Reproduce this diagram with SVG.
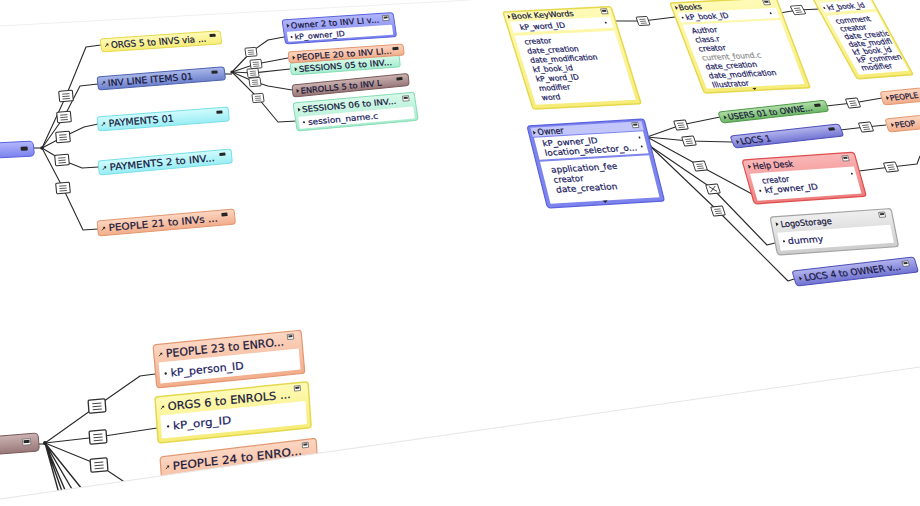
<svg xmlns="http://www.w3.org/2000/svg" xmlns:xlink="http://www.w3.org/1999/xlink" width="920" height="506" viewBox="0 0 920 506">
<defs>
<style>
.ln{fill:none;stroke:#2a2a2a;stroke-width:1.1;stroke-linejoin:round}
.t{font-family:"DejaVu Sans","Liberation Sans",sans-serif;fill:#16163a;stroke:#16163a;stroke-width:0.2}
.f{fill:#1a2060;stroke:#1a2060}
.gr{fill:#8f8f8f;stroke:#8f8f8f}
.min{fill:#262626}
.pn{fill:#fff}
.yel{fill:url(#gY);stroke:#e6d84e}
.blu{fill:url(#gB);stroke:#5a62de}
.stl{fill:url(#gS);stroke:#4f64b0}
.cyn{fill:url(#gC);stroke:#79dfe9}
.sal{fill:url(#gP);stroke:#e39770}
.mnt{fill:url(#gM);stroke:#86dcb5}
.mau{fill:url(#gMa);stroke:#7a5b5b}
.grn{fill:url(#gG);stroke:#519a4a}
.pur{fill:url(#gU);stroke:#4e50b8}
.red{fill:url(#gR);stroke:#de4e4e}
.gry{fill:url(#gGr);stroke:#a3a3a3}
</style>
<linearGradient id="gY" x1="0" y1="0" x2="0" y2="1"><stop offset="0" stop-color="#fffbb8"/><stop offset="1" stop-color="#f6ec78"/></linearGradient>
<linearGradient id="gB" x1="0" y1="0" x2="0" y2="1"><stop offset="0" stop-color="#b3b7fb"/><stop offset="1" stop-color="#7b82ee"/></linearGradient>
<linearGradient id="gS" x1="0" y1="0" x2="0" y2="1"><stop offset="0" stop-color="#aab8ea"/><stop offset="1" stop-color="#6c80cb"/></linearGradient>
<linearGradient id="gC" x1="0" y1="0" x2="0" y2="1"><stop offset="0" stop-color="#d2fcfe"/><stop offset="1" stop-color="#99edf4"/></linearGradient>
<linearGradient id="gP" x1="0" y1="0" x2="0" y2="1"><stop offset="0" stop-color="#fcd7c3"/><stop offset="1" stop-color="#f2ad8b"/></linearGradient>
<linearGradient id="gM" x1="0" y1="0" x2="0" y2="1"><stop offset="0" stop-color="#d9f9eb"/><stop offset="1" stop-color="#a7eccf"/></linearGradient>
<linearGradient id="gMa" x1="0" y1="0" x2="0" y2="1"><stop offset="0" stop-color="#ccb3b3"/><stop offset="1" stop-color="#987777"/></linearGradient>
<linearGradient id="gG" x1="0" y1="0" x2="0" y2="1"><stop offset="0" stop-color="#b1dfaa"/><stop offset="1" stop-color="#6cb564"/></linearGradient>
<linearGradient id="gU" x1="0" y1="0" x2="0" y2="1"><stop offset="0" stop-color="#b3b5ee"/><stop offset="1" stop-color="#7173d2"/></linearGradient>
<linearGradient id="gR" x1="0" y1="0" x2="0" y2="1"><stop offset="0" stop-color="#fab8b8"/><stop offset="1" stop-color="#ee7c7c"/></linearGradient>
<linearGradient id="gGr" x1="0" y1="0" x2="0" y2="1"><stop offset="0" stop-color="#efefef"/><stop offset="1" stop-color="#cdcdcd"/></linearGradient>
<g id="rel"><rect x="-6.5" y="-5" width="13" height="10" rx="1" fill="#fff" stroke="#2d2d2d" stroke-width="1"/><path d="M-3.5 -2H3.5M-3.5 0.3H3.5M-3.5 2.6H3.5" stroke="#444" stroke-width="0.8"/></g>
<g id="relx"><rect x="-6.5" y="-5" width="13" height="10" rx="1" fill="#fff" stroke="#2d2d2d" stroke-width="1"/><path d="M-3.5 -3L3.5 3M3.5 -3L-3.5 3" stroke="#333" stroke-width="0.9"/></g>
<g id="ar"><path d="M0 3.2L3 0.2" stroke="#222" stroke-width="0.8"/><path d="M1 0H3.4V2.4Z" fill="#222"/></g>
<path id="tri" d="M0 -2L2.6 0L0 2Z" fill="#222"/>
<g id="ti"><rect width="6" height="5" fill="#fff" stroke="#444" stroke-width="0.6"/><rect x="1" y="1" width="4" height="2" fill="#333"/></g>
<clipPath id="ckf"><rect x="0" y="0" width="54" height="82"/></clipPath>
</defs>
<rect width="920" height="506" fill="#fff"/>
<path d="M0 26L470 0" stroke="#f0f0f0" stroke-width="1" fill="none"/>

<g id="connectors">
<g class="ln">
<path d="M33 148H42"/>
<path d="M42 148L66 96L86 47L101 45"/>
<path d="M42 148L64 117L80 86L98 84"/>
<path d="M42 148L63 137L84 127L98 124"/>
<path d="M42 148L62 160L82 168L99 167"/>
<path d="M42 148L63 188L83 230L98 229"/>
<path d="M224 74H232"/>
<path d="M232 72L251 52L268 40L284 37"/>
<path d="M232 72L256 64L288 58"/>
<path d="M232 72L253 73L290 69"/>
<path d="M232 72L255 82L268 86L292 90"/>
<path d="M232 72L258 98L278 122L297 121"/>
<path d="M614 21L643 21L675 17"/>
<path d="M780 13L798 10L820 9"/>
<path d="M647 137L681 125L720 117"/>
<path d="M647 137L689 141L732 142"/>
<path d="M647 137L700 166L752 194"/>
<path d="M650 146L713 189L767 245L775 243"/>
<path d="M650 146L718 211L788 281L794 279"/>
<path d="M826 106L853 103L882 98"/>
<path d="M840 130L866 127L886 125"/>
<path d="M859 171L891 167L917 164L920 156"/>
<path d="M38 444H45"/>
<path d="M45 443L97 406L140 376L155 374"/>
<path d="M45 443L98 437L157 428"/>
<path d="M45 443L99 465L126 483L160 482"/>
<path d="M45 443L60 497M45 443L64 497M45 443L68 497M45 443L76 496M45 443L86 494" stroke-width="1.4"/>
</g>
<g fill="#222"><circle cx="42" cy="148" r="1.8"/><circle cx="232" cy="72" r="1.6"/><circle cx="45" cy="443" r="2"/><circle cx="647" cy="137" r="1.5"/><circle cx="650" cy="146" r="1.5"/></g>
<use href="#rel" transform="matrix(1.05,-0.08,0.1,1.05,66,96)"/>
<use href="#rel" transform="matrix(1.05,-0.08,0.1,1.05,64,117)"/>
<use href="#rel" transform="matrix(1.05,-0.08,0.1,1.05,63,137)"/>
<use href="#rel" transform="matrix(1.05,-0.08,0.1,1.05,62,160)"/>
<use href="#rel" transform="matrix(1.05,-0.08,0.1,1.05,63,188)"/>
<use href="#rel" transform="matrix(0.85,-0.07,0.12,0.85,251,52)"/>
<use href="#rel" transform="matrix(0.85,-0.07,0.12,0.85,256,64)"/>
<use href="#rel" transform="matrix(0.85,-0.07,0.12,0.85,253,73)"/>
<use href="#rel" transform="matrix(0.85,-0.07,0.12,0.85,255,82)"/>
<use href="#rel" transform="matrix(0.85,-0.07,0.12,0.85,258,98)"/>
<use href="#rel" transform="matrix(0.85,-0.05,0.3,0.85,643,21)"/>
<use href="#rel" transform="matrix(0.85,-0.08,0.45,0.85,798,10)"/>
<use href="#rel" transform="matrix(0.9,-0.08,0.3,0.9,681,125)"/>
<use href="#rel" transform="matrix(0.9,-0.08,0.3,0.9,689,141)"/>
<use href="#rel" transform="matrix(0.9,-0.08,0.3,0.9,700,166)"/>
<use href="#relx" transform="matrix(0.9,-0.08,0.3,0.9,713,189)"/>
<use href="#rel" transform="matrix(0.9,-0.08,0.3,0.9,718,211)"/>
<use href="#rel" transform="matrix(0.9,-0.1,0.35,0.9,853,103)"/>
<use href="#rel" transform="matrix(0.9,-0.1,0.35,0.9,866,127)"/>
<use href="#rel" transform="matrix(0.9,-0.1,0.35,0.9,891,167)"/>
<use href="#rel" transform="matrix(1.3,-0.12,0.1,1.3,97,406)"/>
<use href="#rel" transform="matrix(1.3,-0.12,0.1,1.3,98,437)"/>
<use href="#rel" transform="matrix(1.3,-0.12,0.1,1.3,99,465)"/>
</g>

<g id="n-invoices" transform="matrix(1,-0.05,0.1,1,-25,144)">
<rect class="blu" width="58" height="15" rx="4"/><rect class="min" x="45" y="5" width="7" height="4" rx="0.8"/>
</g>
<g id="n-orgs5" transform="matrix(1,-0.068,0.15,1,100,39)">
<rect class="yel" width="120" height="13" rx="3"/><use href="#ar" x="4" y="5"/>
<text class="t" x="10" y="9.8" font-size="9" textLength="95" lengthAdjust="spacingAndGlyphs">ORGS 5 to INVS via ...</text>
<rect class="min" x="109" y="2.5" width="6" height="3" rx="0.6"/>
</g>
<g id="n-invline" transform="matrix(1,-0.08,0.12,1,97,77)">
<rect class="stl" width="127" height="13" rx="3"/><use href="#ar" x="4" y="5"/>
<text class="t" x="10" y="10" font-size="9" textLength="85" lengthAdjust="spacingAndGlyphs">INV LINE ITEMS 01</text>
<rect class="min" x="114" y="3" width="6" height="3" rx="0.6"/>
</g>
<g id="n-pay01" transform="matrix(1,-0.077,0.1,1,97,117)">
<rect class="cyn" width="131" height="14" rx="3"/><use href="#ar" x="4" y="6"/>
<text class="t" x="11" y="10.5" font-size="9.5" textLength="65" lengthAdjust="spacingAndGlyphs">PAYMENTS 01</text>
<rect class="min" x="119" y="3" width="6" height="3" rx="0.6"/>
</g>
<g id="n-pay2" transform="matrix(1,-0.09,0.1,1,98,161)">
<rect class="cyn" width="133" height="14" rx="3"/><use href="#ar" x="4" y="6"/>
<text class="t" x="11" y="10.5" font-size="9.5" textLength="105" lengthAdjust="spacingAndGlyphs">PAYMENTS 2 to INV...</text>
<rect class="min" x="121" y="3" width="6" height="3" rx="0.6"/>
</g>
<g id="n-people21" transform="matrix(1,-0.088,0.1,1,97,221)">
<rect class="sal" width="137" height="15" rx="3"/><use href="#ar" x="4" y="6.5"/>
<text class="t" x="11" y="11" font-size="9.5" textLength="109" lengthAdjust="spacingAndGlyphs">PEOPLE 21 to INVs ...</text>
<rect class="min" x="124" y="3" width="6" height="3.5" rx="0.6"/>
</g>

<g id="n-owner2" transform="matrix(1,-0.068,0.15,1,282,20)">
<rect class="blu" width="111" height="24" rx="3"/><use href="#tri" x="4" y="6"/>
<text class="t" x="8" y="9" font-size="8" textLength="88" lengthAdjust="spacingAndGlyphs">Owner 2 to INV LI v...</text>
<use href="#ti" x="100" y="2.5"/>
<rect class="pn" x="3" y="12" width="105" height="10" rx="1"/><circle cx="7" cy="17.5" r="1" fill="#222"/>
<text class="t f" x="10" y="20.3" font-size="7.5" textLength="50" lengthAdjust="spacingAndGlyphs">kP_owner_ID</text>
</g>
<g id="n-sessions05" transform="matrix(1,-0.075,0.12,1,290,63)">
<rect class="mnt" width="109" height="12" rx="3"/><use href="#tri" x="4" y="6.5"/>
<text class="t" x="8" y="9.5" font-size="8" textLength="93" lengthAdjust="spacingAndGlyphs">SESSIONS 05 to INV...</text>
</g>
<g id="n-people20" transform="matrix(1,-0.07,0.12,1,288,52)">
<rect class="sal" width="115" height="11" rx="3"/><use href="#tri" x="4" y="6"/>
<text class="t" x="8" y="8.8" font-size="8" textLength="95" lengthAdjust="spacingAndGlyphs">PEOPLE 20 to INV LI...</text>
<rect class="min" x="104" y="2.5" width="6" height="3" rx="0.6"/>
</g>
<g id="n-enrolls5" transform="matrix(1,-0.1,0.1,1,292,85)">
<rect class="mau" width="116" height="12" rx="3"/><use href="#tri" x="4" y="6.5"/>
<text class="t" x="8" y="9.5" font-size="8" textLength="81" lengthAdjust="spacingAndGlyphs">ENROLLS 5 to INV L</text>
<rect class="min" x="104" y="3" width="6" height="3" rx="0.6"/>
</g>
<g id="n-sessions06" transform="matrix(1,-0.09,0.15,1,293,103)">
<rect class="mnt" width="121" height="28" rx="3"/><use href="#tri" x="4" y="7"/>
<text class="t" x="8" y="10" font-size="8" textLength="94" lengthAdjust="spacingAndGlyphs">SESSIONS 06 to INV...</text>
<use href="#ti" x="109" y="3"/>
<rect class="pn" x="3" y="14" width="115" height="12" rx="1"/><circle cx="8" cy="20" r="1" fill="#222"/>
<text class="t f" x="12" y="23" font-size="8" textLength="70" lengthAdjust="spacingAndGlyphs">session_name.c</text>
</g>

<g id="n-bookkw" transform="matrix(1,-0.05,0.31,1,503,12)">
<rect class="yel" width="108" height="97" rx="2" stroke-width="1.5"/><use href="#tri" x="3.5" y="5"/>
<text class="t" x="7" y="7.5" font-size="7.5" textLength="62" lengthAdjust="spacingAndGlyphs">Book KeyWords</text>
<use href="#ti" x="97" y="1.8"/>
<rect class="pn" x="4" y="10" width="100" height="11"/><circle cx="98" cy="15.5" r="0.9" fill="#222"/>
<text class="t f" x="12" y="18.5" font-size="7.5" textLength="45" lengthAdjust="spacingAndGlyphs">kP_word_ID</text>
<rect class="pn" x="4" y="24" width="100" height="69"/>
<g class="t f" font-size="7.5">
<text x="12" y="33">creator</text><text x="12" y="42.3">date_creation</text><text x="12" y="51.6">date_modification</text><text x="12" y="60.9">kf_book_id</text><text x="12" y="70.2">kP_word_ID</text><text x="12" y="79.5">modifier</text><text x="12" y="88.8">word</text>
</g>
</g>
<g id="n-books" transform="matrix(1,-0.05,0.38,1,670,3)">
<rect class="yel" width="106" height="90" rx="2" stroke-width="1.5"/><use href="#tri" x="3.5" y="5"/>
<text class="t" x="7" y="7.5" font-size="7.5">Books</text>
<use href="#ti" x="92" y="1.5"/>
<rect class="pn" x="4" y="10" width="98" height="10"/><circle cx="7" cy="15" r="0.9" fill="#222"/><circle cx="95" cy="15" r="0.9" fill="#222"/>
<text class="t f" x="10" y="17.5" font-size="7.5">kP_book_ID</text>
<rect class="pn" x="4" y="22" width="98" height="64"/>
<g class="t f" font-size="7.5">
<text x="11" y="31">Author</text><text x="11" y="40">class.r</text><text x="11" y="49">creator</text><text class="gr" x="11" y="58">current_found.c</text><text x="11" y="67">date_creation</text><text x="11" y="76">date_modification</text><text x="11" y="85">Illustrator</text>
</g>
<path d="M49 87.5L53 87.5L51 89.5Z" fill="#222"/>
</g>
<g id="n-kf" transform="matrix(1,-0.08,0.55,1,812,-3)">
<rect class="yel" width="56" height="82" rx="2" stroke-width="1.5"/>
<g clip-path="url(#ckf)">
<rect class="pn" x="4" y="6" width="60" height="10"/><circle cx="6" cy="11.5" r="0.9" fill="#222"/>
<text class="t f" x="9" y="14" font-size="7">kf_book_id</text>
<rect class="pn" x="4" y="19" width="60" height="59"/>
<g class="t f" font-size="7.3">
<text x="10" y="27.5">comment</text><text x="10" y="35.3">creator</text><text x="10" y="43.1">date_creatio</text><text x="10" y="50.9">date_modifi</text><text x="10" y="58.7">kf_book_id</text><text x="10" y="66.5">kP_commen</text><text x="10" y="74.3">modifier</text>
</g>
</g>
</g>

<g id="n-owner" transform="matrix(1,-0.06,0.25,1,527,126)">
<rect width="117" height="82" rx="3" fill="#7d84ee" stroke="#5a62de" stroke-width="1.2"/>
<rect x="3" y="2" width="111" height="9" fill="#c3c6fb"/><use href="#tri" x="4.5" y="7"/>
<text class="t" x="9" y="9.5" font-size="8.5" textLength="26" lengthAdjust="spacingAndGlyphs">Owner</text>
<use href="#ti" x="104" y="3"/>
<rect class="pn" x="4" y="12" width="109" height="22"/>
<text class="t f" x="11" y="21" font-size="8" textLength="55" lengthAdjust="spacingAndGlyphs">kP_owner_ID</text>
<text class="t f" x="11" y="30.5" font-size="8" textLength="92" lengthAdjust="spacingAndGlyphs">location_selector_o...</text>
<circle cx="108" cy="18" r="0.9" fill="#222"/><circle cx="108" cy="27" r="0.9" fill="#222"/>
<rect class="pn" x="4" y="36" width="109" height="42"/>
<g class="t f" font-size="8.3">
<text x="13" y="47.5" textLength="66" lengthAdjust="spacingAndGlyphs">application_fee</text><text x="13" y="57.5">creator</text><text x="13" y="67.5" textLength="61" lengthAdjust="spacingAndGlyphs">date_creation</text>
</g>
<path d="M56 78L61 78L58.5 80.5Z" fill="#222"/>
</g>
<g id="n-users01" transform="matrix(1,-0.11,0.35,1,718,112)">
<rect class="grn" width="107" height="11" rx="3"/><use href="#tri" x="4" y="6"/>
<text class="t" x="8" y="8.7" font-size="8" textLength="84" lengthAdjust="spacingAndGlyphs">USERS 01 to OWNE...</text>
<rect class="min" x="95" y="2.5" width="6" height="3" rx="0.6"/>
</g>
<g id="n-locs1" transform="matrix(1,-0.11,0.4,1,730,136)">
<rect class="pur" width="109" height="12" rx="3"/><use href="#tri" x="4" y="6.5"/>
<text class="t" x="8" y="9.3" font-size="8.5" textLength="30" lengthAdjust="spacingAndGlyphs">LOCS 1</text>
<rect class="min" x="97" y="2.5" width="6" height="3" rx="0.6"/>
</g>
<g id="n-helpdesk" transform="matrix(1,-0.07,0.28,1,742,160)">
<rect class="red" width="112" height="44" rx="3" stroke-width="1.2"/><use href="#tri" x="4.5" y="7"/>
<text class="t" x="9" y="10" font-size="8.5" textLength="40" lengthAdjust="spacingAndGlyphs">Help Desk</text>
<use href="#ti" x="99" y="3"/>
<rect class="pn" x="4" y="14" width="104" height="27"/>
<text class="t f" x="14" y="24.5" font-size="8" textLength="27" lengthAdjust="spacingAndGlyphs">creator</text>
<circle cx="9.5" cy="31.5" r="1" fill="#222"/>
<text class="t f" x="14" y="34" font-size="8" textLength="53" lengthAdjust="spacingAndGlyphs">kf_owner_ID</text>
<circle cx="104" cy="21" r="0.9" fill="#222"/>
</g>
<g id="n-logo" transform="matrix(1,-0.07,0.2,1,770,217)">
<rect class="gry" width="121" height="38" rx="3" stroke-width="1.2"/><use href="#tri" x="4.5" y="7.5"/>
<text class="t" x="9" y="11" font-size="8.5" textLength="51" lengthAdjust="spacingAndGlyphs">LogoStorage</text>
<use href="#ti" x="108" y="3"/>
<rect class="pn" x="4" y="16" width="113" height="18"/><circle cx="9" cy="25" r="1" fill="#222"/>
<text class="t f" x="13" y="28" font-size="8.5" textLength="35" lengthAdjust="spacingAndGlyphs">dummy</text>
</g>
<g id="n-locs4" transform="matrix(1,-0.115,0.3,1,792,271)">
<rect class="pur" width="122" height="15" rx="3"/><use href="#tri" x="5" y="8"/>
<text class="t" x="10" y="11" font-size="9" textLength="96" lengthAdjust="spacingAndGlyphs">LOCS 4 to OWNER v...</text>
<use href="#ti" x="109" y="3"/>
</g>
<g id="n-people-r1" transform="matrix(1,-0.1,0.3,1,880,92)">
<rect class="sal" width="60" height="13" rx="3"/><use href="#tri" x="4.5" y="6.5"/>
<text class="t" x="8" y="9.5" font-size="7.5" textLength="28" lengthAdjust="spacingAndGlyphs">PEOPLE</text>
</g>
<g id="n-people-r2" transform="matrix(1,-0.1,0.3,1,885,119)">
<rect class="sal" width="60" height="13" rx="3"/><use href="#tri" x="4.5" y="6.5"/>
<text class="t" x="8" y="9.5" font-size="7.5" textLength="20" lengthAdjust="spacingAndGlyphs">PEOP</text>
</g>

<g id="n-enrolls-bl" transform="matrix(1,-0.08,0.08,1,-25,438)">
<rect class="mau" width="63" height="18" rx="4"/><rect x="47" y="5" width="8" height="6" fill="#fff" stroke="#555" stroke-width="0.6"/><rect class="min" x="48" y="6" width="6" height="3"/>
</g>
<g id="n-people23" transform="matrix(1,-0.1,0.09,1,153,345)">
<rect class="sal" width="148" height="43" rx="3" stroke-width="1.2"/><use href="#ar" x="5" y="8.5"/>
<text class="t" x="12" y="13.5" font-size="11" textLength="118" lengthAdjust="spacingAndGlyphs">PEOPLE 23 to ENRO...</text>
<use href="#ti" x="134" y="3"/>
<rect class="pn" x="4" y="18" width="140" height="21"/><circle cx="10" cy="29.5" r="1.2" fill="#222"/>
<text class="t f" x="15" y="33" font-size="10.5" textLength="73" lengthAdjust="spacingAndGlyphs">kP_person_ID</text>
</g>
<g id="n-orgs6" transform="matrix(1,-0.1,0.07,1,155,397)">
<rect class="yel" width="153" height="46" rx="3" stroke-width="1.5"/><use href="#ar" x="5" y="9.5"/>
<text class="t" x="12" y="14.5" font-size="11" textLength="123" lengthAdjust="spacingAndGlyphs">ORGS 6 to ENROLS ...</text>
<use href="#ti" x="139" y="3"/>
<rect class="pn" x="4" y="19" width="145" height="23"/><circle cx="11" cy="30.5" r="1.2" fill="#222"/>
<text class="t f" x="16" y="34" font-size="10.5" textLength="58" lengthAdjust="spacingAndGlyphs">kP_org_ID</text>
</g>
<g id="n-people24" transform="matrix(1,-0.12,0.07,1,160,457)">
<rect class="sal" width="156" height="40" rx="3" stroke-width="1.2"/><use href="#ar" x="5" y="9.5"/>
<text class="t" x="12" y="14.5" font-size="11" textLength="129" lengthAdjust="spacingAndGlyphs">PEOPLE 24 to ENRO...</text>
<use href="#ti" x="142" y="3"/>
<rect class="pn" x="4" y="19" width="148" height="18"/>
</g>

<path d="M0 499L920 367V506H0Z" fill="#fff"/>
<path d="M0 499L920 367" stroke="#e6e6e6" stroke-width="1" fill="none"/>
</svg>
